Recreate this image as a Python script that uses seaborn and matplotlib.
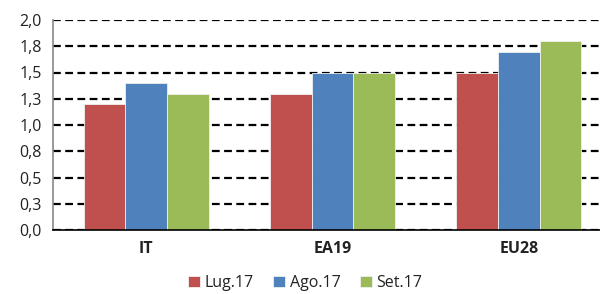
import matplotlib
matplotlib.use("Agg")
import matplotlib.pyplot as plt
import seaborn as sns
import pandas as pd
import numpy as np

categories = ["IT", "EA19", "EU28"]
series = ["Lug.17", "Ago.17", "Set.17"]
lug = [1.2, 1.3, 1.5]
ago = [1.4, 1.5, 1.7]
sett = [1.3, 1.5, 1.8]
ytick_values = [0.0, 0.25, 0.5, 0.75, 1.0, 1.25, 1.5, 1.75, 2.0]
ytick_labels = ["0,0", "0,3", "0,5", "0,8", "1,0", "1,3", "1,5", "1,8", "2,0"]
colors = ["#C0504D", "#4F81BD", "#9BBB59"]

rows = []
for s, vals in zip(series, [lug, ago, sett]):
    for c, v in zip(categories, vals):
        rows.append({"cat": c, "serie": s, "val": v})
df = pd.DataFrame(rows)

sns.set_style("white")
plt.rcParams["font.family"] = ["Open Sans", "DejaVu Sans"]

fig = plt.figure(figsize=(6.0, 2.94), dpi=100)
W, H = 600, 294
ax = fig.add_axes([53 / W, (H - 230) / H, (612 - 53) / W, 210 / H])

sns.barplot(data=df, x="cat", y="val", hue="serie", order=categories,
            hue_order=series, palette=colors, width=0.67, gap=0,
            saturation=1, edgecolor="#f0f0f0", linewidth=0.6, ax=ax,
            legend=True)

ax.set_ylim(0, 2.0)
ax.set_xlim(-0.5, 2.5)
ax.set_yticks(ytick_values)
ax.set_yticklabels(ytick_labels, fontsize=11.5, color="#222222")
ax.yaxis.grid(True, linestyle=(0, (3.5, 2.0)), color="black", linewidth=1.6)
ax.set_axisbelow(True)

ax.set_xticks(range(len(categories)))
ax.set_xticklabels(categories, fontsize=11.5, fontweight="bold", color="#222222")
ax.tick_params(axis="x", which="major", length=0, pad=8)
ax.set_xticks([-0.5, 0.5, 1.5, 2.5], minor=True)
ax.tick_params(axis="x", which="minor", length=5, width=1, color="#888888", direction="out")
ax.tick_params(axis="y", which="major", length=5, width=1, color="#888888", direction="out", pad=3)

for side in ["top", "right"]:
    ax.spines[side].set_visible(False)
ax.spines["left"].set_color("#888888")
ax.spines["left"].set_linewidth(1.2)
ax.spines["bottom"].set_color("black")
ax.spines["bottom"].set_linewidth(1.2)
ax.set_xlabel("")
ax.set_ylabel("")

leg = ax.legend(loc="center", bbox_to_anchor=(0.5 + 5 / W, 1 - 283 / H), bbox_transform=fig.transFigure,
                ncol=3, frameon=False, fontsize=11.5, handlelength=0.75, handleheight=0.75,
                handletextpad=0.3, columnspacing=1.2)
for t in leg.get_texts():
    t.set_color("#222222")

fig.savefig("out.png", dpi=100)
